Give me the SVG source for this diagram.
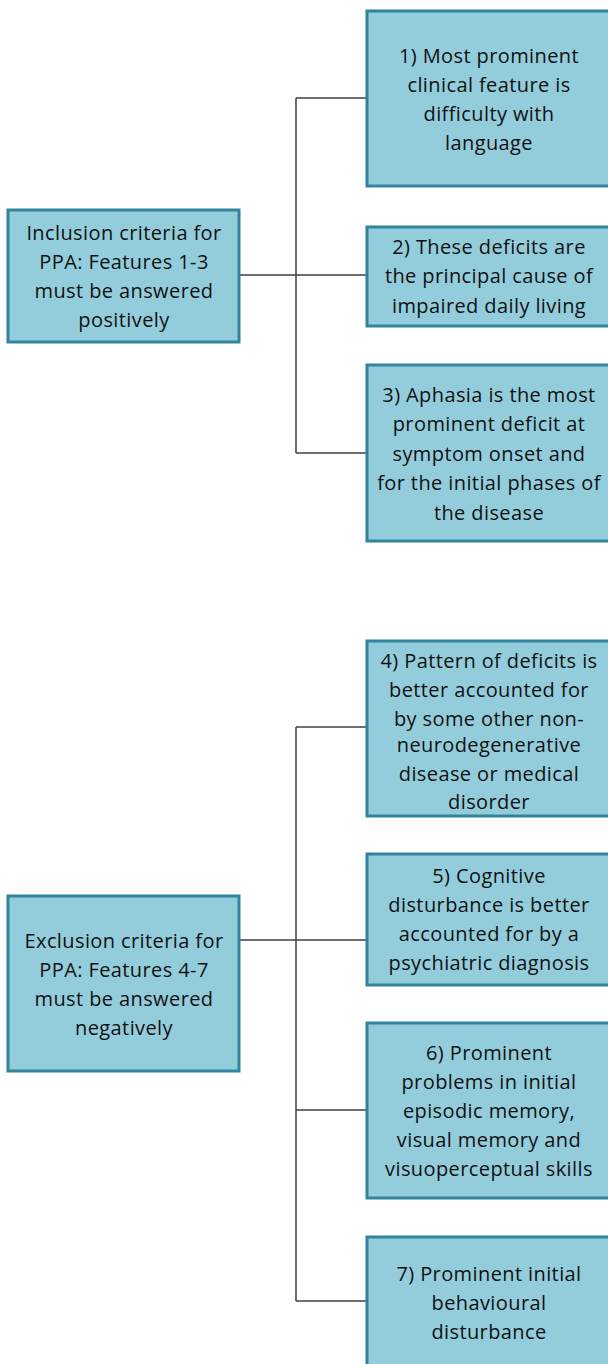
<svg xmlns="http://www.w3.org/2000/svg" width="608" height="1364" viewBox="0 0 608 1364">
<style>
.box{fill:#93CDDC;stroke:#31849B;stroke-width:3}
.t{font-family:"Open Sans","Liberation Sans",sans-serif;font-size:20px;letter-spacing:0.4px;fill:#111111;text-anchor:middle;dominant-baseline:central}
.c{fill:none;stroke:#404040;stroke-width:1.5}
</style>
<rect width="608" height="1364" fill="#ffffff"/>
<g id="connectors">
<path class="c" d="M240,275 H366 M296,98 V453 M296,98 H366 M296,453 H366"/>
<path class="c" d="M240,940 H366 M296,727 V1301 M296,727 H366 M296,1110 H366 M296,1301 H366"/>
</g>
<g id="inclusion">
<rect class="box" x="8" y="210" width="231" height="132"/>
<text class="t" x="124" y="232">Inclusion criteria for</text>
<text class="t" x="124" y="261">PPA: Features 1-3</text>
<text class="t" x="124" y="290">must be answered</text>
<text class="t" x="124" y="319">positively</text>
</g>
<g id="f1">
<rect class="box" x="367" y="11" width="246" height="175"/>
<text class="t" x="489" y="55">1) Most prominent</text>
<text class="t" x="489" y="84">clinical feature is</text>
<text class="t" x="489" y="113">difficulty with</text>
<text class="t" x="489" y="142">language</text>
</g>
<g id="f2">
<rect class="box" x="367" y="227" width="246" height="99"/>
<text class="t" x="489" y="246">2) These deficits are</text>
<text class="t" x="489" y="275">the principal cause of</text>
<text class="t" x="489" y="305">impaired daily living</text>
</g>
<g id="f3">
<rect class="box" x="367" y="365" width="246" height="176"/>
<text class="t" x="489" y="394">3) Aphasia is the most</text>
<text class="t" x="489" y="423">prominent deficit at</text>
<text class="t" x="489" y="453">symptom onset and</text>
<text class="t" x="489" y="482">for the initial phases of</text>
<text class="t" x="489" y="512">the disease</text>
</g>
<g id="exclusion">
<rect class="box" x="8" y="896" width="231" height="175"/>
<text class="t" x="124" y="940">Exclusion criteria for</text>
<text class="t" x="124" y="969">PPA: Features 4-7</text>
<text class="t" x="124" y="998">must be answered</text>
<text class="t" x="124" y="1027">negatively</text>
</g>
<g id="f4">
<rect class="box" x="367" y="641" width="246" height="175"/>
<text class="t" x="489" y="660">4) Pattern of deficits is</text>
<text class="t" x="489" y="689">better accounted for</text>
<text class="t" x="489" y="718">by some other non-</text>
<text class="t" x="489" y="744">neurodegenerative</text>
<text class="t" x="489" y="773">disease or medical</text>
<text class="t" x="489" y="801">disorder</text>
</g>
<g id="f5">
<rect class="box" x="367" y="854" width="246" height="131"/>
<text class="t" x="489" y="875">5) Cognitive</text>
<text class="t" x="489" y="904">disturbance is better</text>
<text class="t" x="489" y="933">accounted for by a</text>
<text class="t" x="489" y="962">psychiatric diagnosis</text>
</g>
<g id="f6">
<rect class="box" x="367" y="1023" width="246" height="175"/>
<text class="t" x="489" y="1052">6) Prominent</text>
<text class="t" x="489" y="1081">problems in initial</text>
<text class="t" x="489" y="1110">episodic memory,</text>
<text class="t" x="489" y="1139">visual memory and</text>
<text class="t" x="489" y="1168">visuoperceptual skills</text>
</g>
<g id="f7">
<rect class="box" x="367" y="1237" width="246" height="140"/>
<text class="t" x="489" y="1273">7) Prominent initial</text>
<text class="t" x="489" y="1302">behavioural</text>
<text class="t" x="489" y="1331">disturbance</text>
</g>
</svg>
